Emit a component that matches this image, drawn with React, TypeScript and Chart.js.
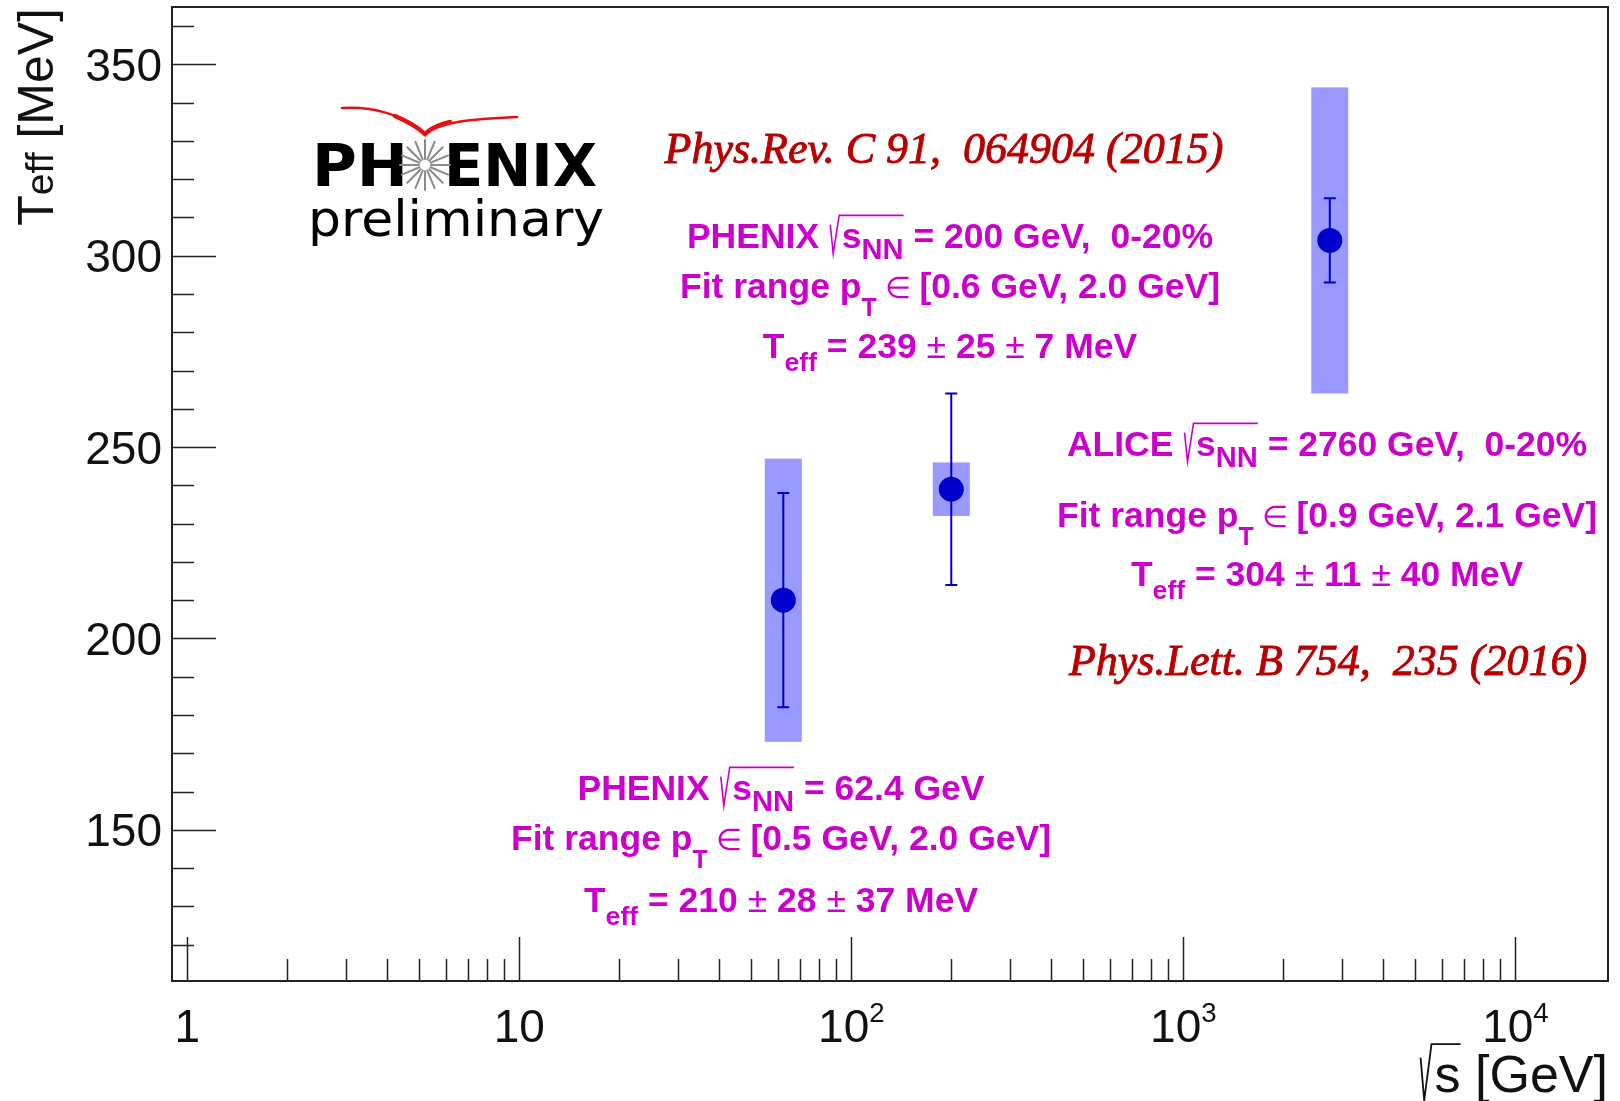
import React, { useEffect, useRef } from "react";
import { Chart, registerables } from "chart.js";

Chart.register(...registerables);

// ---------------- data ----------------
const energies = [62.4, 200, 2760]; // sqrt(s_NN) [GeV]
const teffValues = [210, 239, 304]; // T_eff [MeV]
const statErrors = [28, 25, 11];
const sysErrors = [37, 7, 40];

const xRange = [0.9, 19000];
const yRange = [110.5, 365];

const xMajorTicks = [1, 10, 100, 1000, 10000];
const xMajorLabels = [
  ["1", ""],
  ["10", ""],
  ["10", "2"],
  ["10", "3"],
  ["10", "4"],
];
const xMinorTicks = [
  2, 3, 4, 5, 6, 7, 8, 9,
  20, 30, 40, 50, 60, 70, 80, 90,
  200, 300, 400, 500, 600, 700, 800, 900,
  2000, 3000, 4000, 5000, 6000, 7000, 8000, 9000,
];
const yMajorTicks = [150, 200, 250, 300, 350];
const yMajorLabels = ["150", "200", "250", "300", "350"];
const yMinorTicks = [
  120, 130, 140, 160, 170, 180, 190, 210, 220, 230, 240, 260, 270, 280, 290,
  310, 320, 330, 340, 360,
];

// ---------------- styles ----------------
const SANS = '"Liberation Sans", Arial, sans-serif';
const MAGENTA = "#cc00cc";
const REFRED = "#b80000";
const BOX_COLOR = "#9999ff";
const POINT_COLOR = "#0000cc";
const BOX_HALF = 18.5;
const CAP_HALF = 6;

type Seg = {
  t: string;
  sub?: boolean;
  sup?: boolean;
  light?: boolean;
  sign?: boolean;
  under?: boolean;
  scale?: number;
  subScale?: number;
  subDy?: number;
};
type RichOpts = {
  family: string;
  weight: string;
  italic?: boolean;
  color: string;
  align: "left" | "center" | "right";
  subScale: number;
  subDy: number;
  supScale?: number;
  supDy?: number;
  radLw?: number;
  radW?: number;
  embolden?: number;
};

function fontFor(seg: Seg, size: number, o: RichOpts) {
  let s = seg.sub ? size * (seg.subScale || o.subScale) : seg.sup ? size * (o.supScale || 0.6) : size;
  if (seg.scale) s *= seg.scale;
  const w = seg.light ? "normal" : o.weight;
  return `${o.italic ? "italic " : ""}${w} ${s}px ${o.family}`;
}

function drawRich(ctx: CanvasRenderingContext2D, segs: Seg[], x: number, base: number, size: number, o: RichOpts) {
  ctx.save();
  const radW = o.radW || 0.3;
  const ws = segs.map((seg) => {
    if (seg.sign) return size * radW;
    ctx.font = fontFor(seg, size, o);
    return ctx.measureText(seg.t).width;
  });
  const total = ws.reduce((a, b) => a + b, 0);
  let cx = o.align === "center" ? x - total / 2 : o.align === "right" ? x - total : x;
  ctx.fillStyle = o.color;
  ctx.strokeStyle = o.color;
  ctx.textAlign = "left";
  ctx.textBaseline = "alphabetic";
  let radX: number | null = null;
  let radEnd: number | null = null;
  segs.forEach((seg, i) => {
    if (seg.sign) {
      radX = cx;
    } else {
      ctx.font = fontFor(seg, size, o);
      const dy = seg.sub ? size * (seg.subDy ?? o.subDy) : seg.sup ? size * (o.supDy || -0.44) : 0;
      ctx.fillText(seg.t, cx, base + dy);
      if (o.embolden) {
        ctx.lineWidth = o.embolden;
        ctx.strokeText(seg.t, cx, base + dy);
      }
      if (seg.under) radEnd = cx + ws[i];
    }
    cx += ws[i];
  });
  if (radX !== null && radEnd !== null) {
    const rx = radX as number;
    const top = base - size * 0.92;
    const k = radW / 0.3;
    ctx.lineWidth = o.radLw || 1.5;
    ctx.lineJoin = "miter";
    ctx.beginPath();
    ctx.moveTo(rx + size * 0.03 * k, base - size * 0.66);
    ctx.lineTo(rx + size * 0.1 * k, base + size * 0.16);
    ctx.lineTo(rx + size * 0.24 * k, top);
    ctx.lineTo(radEnd as number, top);
    ctx.stroke();
  }
  ctx.restore();
  return total;
}

const annotOpts: RichOpts = {
  family: SANS,
  weight: "bold",
  color: MAGENTA,
  align: "center",
  subScale: 0.75,
  subDy: 0.36,
  radLw: 1.6,
  radW: 0.36,
};

function sqrtLine(prefix: string, rest: string): Seg[] {
  return [
    { t: prefix },
    { t: "", sign: true },
    { t: "s", under: true },
    { t: "NN", sub: true, under: true, subScale: 0.82, subDy: 0.3 },
    { t: rest },
  ];
}
function fitLine(range: string): Seg[] {
  return [
    { t: "Fit range p" },
    { t: "T", sub: true, subScale: 0.7, subDy: 0.5 },
    { t: " \u2208 ", light: true, scale: 0.85 },
    { t: range },
  ];
}
function teffLine(v: string, s1: string, s2: string): Seg[] {
  return [
    { t: "T" },
    { t: "eff", sub: true },
    { t: " = " + v },
    { t: " \u00b1 ", light: true },
    { t: s1 },
    { t: " \u00b1 ", light: true },
    { t: s2 + " MeV" },
  ];
}

function drawBlock(ctx: CanvasRenderingContext2D, lines: Seg[][], cx: number, bases: number[]) {
  const size = 35.5;
  lines.forEach((segs, i) => {
    drawRich(ctx, segs, cx, bases[i], size, annotOpts);
  });
}

function drawLogo(ctx: CanvasRenderingContext2D) {
  ctx.save();
  // red swoosh
  ctx.strokeStyle = "#e81010";
  ctx.lineCap = "round";
  ctx.lineWidth = 2.5;
  ctx.beginPath();
  ctx.moveTo(342, 108);
  ctx.bezierCurveTo(372, 106, 405, 115, 425, 134);
  ctx.stroke();
  ctx.beginPath();
  ctx.moveTo(425, 134);
  ctx.bezierCurveTo(440, 122, 470, 119, 517, 117);
  ctx.stroke();
  ctx.lineWidth = 4.5;
  ctx.beginPath();
  ctx.moveTo(395, 116);
  ctx.quadraticCurveTo(414, 124, 425, 134);
  ctx.quadraticCurveTo(433, 126, 450, 122);
  ctx.stroke();
  // PH ENIX
  ctx.fillStyle = "#000";
  ctx.font = 'bold 58px "DejaVu Sans", sans-serif';
  ctx.textBaseline = "alphabetic";
  ctx.textAlign = "right";
  const phW = ctx.measureText("PH").width;
  const enW = ctx.measureText("ENIX").width;
  ctx.save();
  ctx.translate(408, 186);
  ctx.scale(96 / phW, 1);
  ctx.fillText("PH", 0, 0);
  ctx.restore();
  ctx.save();
  ctx.textAlign = "left";
  ctx.translate(444, 186);
  ctx.scale(153 / enW, 1);
  ctx.fillText("ENIX", 0, 0);
  ctx.restore();
  // starburst
  ctx.strokeStyle = "#8a8a8a";
  ctx.lineWidth = 2;
  const cx = 425, cy = 165;
  for (let k = 0; k < 16; k++) {
    const a = (k * Math.PI * 2) / 16;
    ctx.beginPath();
    ctx.moveTo(cx + Math.cos(a) * 6, cy + Math.sin(a) * 6);
    ctx.lineTo(cx + Math.cos(a) * 25, cy + Math.sin(a) * 25);
    ctx.stroke();
  }
  // preliminary
  ctx.font = 'normal 50px "DejaVu Sans", sans-serif';
  ctx.textAlign = "left";
  const w = ctx.measureText("preliminary").width;
  ctx.translate(308, 236);
  ctx.scale(296 / w, 1);
  ctx.fillText("preliminary", 0, 0);
  ctx.restore();
}

const overlay = {
  id: "overlay",
  beforeDatasetsDraw(chart: any) {
    const { ctx, scales } = chart;
    const xs = scales.x, ys = scales.y;
    ctx.save();
    ctx.fillStyle = BOX_COLOR;
    energies.forEach((e, i) => {
      const px = xs.getPixelForValue(e);
      const top = ys.getPixelForValue(teffValues[i] + sysErrors[i]);
      const bot = ys.getPixelForValue(teffValues[i] - sysErrors[i]);
      ctx.fillRect(px - BOX_HALF, top, BOX_HALF * 2, bot - top);
    });
    ctx.strokeStyle = POINT_COLOR;
    ctx.lineWidth = 2;
    energies.forEach((e, i) => {
      const px = xs.getPixelForValue(e);
      const top = ys.getPixelForValue(teffValues[i] + statErrors[i]);
      const bot = ys.getPixelForValue(teffValues[i] - statErrors[i]);
      ctx.beginPath();
      ctx.moveTo(px, top);
      ctx.lineTo(px, bot);
      ctx.moveTo(px - CAP_HALF, top);
      ctx.lineTo(px + CAP_HALF, top);
      ctx.moveTo(px - CAP_HALF, bot);
      ctx.lineTo(px + CAP_HALF, bot);
      ctx.stroke();
    });
    ctx.restore();
  },
  afterDraw(chart: any) {
    const { ctx, chartArea: a, scales } = chart;
    const xs = scales.x, ys = scales.y;
    ctx.save();
    // frame
    ctx.strokeStyle = "#222";
    ctx.lineWidth = 2;
    ctx.strokeRect(a.left, a.top, a.right - a.left, a.bottom - a.top);
    // ticks
    ctx.lineWidth = 1.5;
    ctx.beginPath();
    yMajorTicks.forEach((v) => {
      const py = Math.round(ys.getPixelForValue(v)) + 0.5;
      ctx.moveTo(a.left, py);
      ctx.lineTo(a.left + 44, py);
    });
    yMinorTicks.forEach((v) => {
      const py = Math.round(ys.getPixelForValue(v)) + 0.5;
      ctx.moveTo(a.left, py);
      ctx.lineTo(a.left + 22, py);
    });
    xMajorTicks.forEach((v) => {
      const px = Math.round(xs.getPixelForValue(v)) + 0.5;
      ctx.moveTo(px, a.bottom);
      ctx.lineTo(px, a.bottom - 44);
    });
    xMinorTicks.forEach((v) => {
      const px = Math.round(xs.getPixelForValue(v)) + 0.5;
      ctx.moveTo(px, a.bottom);
      ctx.lineTo(px, a.bottom - 22);
    });
    ctx.stroke();

    // tick labels
    const tickOpts: RichOpts = {
      family: SANS, weight: "normal", color: "#111", align: "right",
      subScale: 0.6, subDy: 0.3, supScale: 0.6, supDy: -0.44,
    };
    const tsize = 46;
    yMajorTicks.forEach((v, i) => {
      const py = ys.getPixelForValue(v);
      drawRich(ctx, [{ t: yMajorLabels[i] }], a.left - 10, py + tsize * 0.358, tsize, tickOpts);
    });
    xMajorTicks.forEach((v, i) => {
      const px = xs.getPixelForValue(v);
      const [b, e] = xMajorLabels[i];
      const segs: Seg[] = e ? [{ t: b }, { t: e, sup: true }] : [{ t: b }];
      drawRich(ctx, segs, px, 1042, tsize, { ...tickOpts, align: "center" });
    });

    // axis titles
    drawRich(ctx, [{ t: "", sign: true }, { t: "s", under: true }, { t: " [GeV]" }], a.right, 1092, 52, {
      ...tickOpts, align: "right", radLw: 1.8,
    });
    ctx.save();
    ctx.translate(53, 8);
    ctx.rotate(-Math.PI / 2);
    drawRich(ctx, [{ t: "T" }, { t: "eff", sub: true }, { t: " [MeV]" }], 0, 0, 50, {
      ...tickOpts, align: "right", subScale: 0.78, subDy: 0.0,
    });
    ctx.restore();

    // logo
    drawLogo(ctx);

    // references
    const refOpts: RichOpts = {
      family: '"Liberation Serif", "Times New Roman", serif', weight: "normal", italic: true,
      color: REFRED, align: "center", subScale: 0.7, subDy: 0.3, embolden: 0.9,
    };
    drawRich(ctx, [{ t: "Phys.Rev. C 91,  064904 (2015)" }], 944, 163, 44, refOpts);
    drawRich(ctx, [{ t: "Phys.Lett. B 754,  235 (2016)" }], 1328, 675, 44, refOpts);

    // annotation blocks
    drawBlock(ctx, [
      sqrtLine("PHENIX ", " = 200 GeV,  0-20%"),
      fitLine("[0.6 GeV, 2.0 GeV]"),
      teffLine("239", "25", "7"),
    ], 950, [248, 298, 358]);
    drawBlock(ctx, [
      sqrtLine("ALICE ", " = 2760 GeV,  0-20%"),
      fitLine("[0.9 GeV, 2.1 GeV]"),
      teffLine("304", "11", "40"),
    ], 1327, [456, 527, 586]);
    drawBlock(ctx, [
      sqrtLine("PHENIX ", " = 62.4 GeV"),
      fitLine("[0.5 GeV, 2.0 GeV]"),
      teffLine("210", "28", "37"),
    ], 781, [800, 850, 912]);

    ctx.restore();
  },
};

export default function App() {
  const ref = useRef<HTMLCanvasElement | null>(null);
  useEffect(() => {
    document.body.style.margin = "0";
    const canvas = ref.current;
    if (!canvas) return;
    const chart = new Chart(canvas, {
      type: "scatter",
      data: {
        datasets: [
          {
            label: "T_eff",
            data: energies.map((e, i) => ({ x: e, y: teffValues[i] })),
            backgroundColor: POINT_COLOR,
            borderColor: POINT_COLOR,
            borderWidth: 0,
            pointRadius: 12.5,
            pointHoverRadius: 12.5,
            showLine: false,
          },
        ],
      },
      options: {
        responsive: false,
        animation: false,
        devicePixelRatio: 1,
        layout: { autoPadding: false, padding: { left: 172, top: 7, right: 12, bottom: 120 } },
        plugins: { legend: { display: false }, tooltip: { enabled: false } },
        scales: {
          x: { type: "logarithmic", min: xRange[0], max: xRange[1], display: false },
          y: { type: "linear", min: yRange[0], max: yRange[1], display: false },
        },
      },
      plugins: [overlay],
    });
    return () => chart.destroy();
  }, []);
  return (
    <div style={{ width: 1620, height: 1101, background: "#fff" }}>
      <canvas ref={ref} width={1620} height={1101} style={{ display: "block" }} />
    </div>
  );
}
